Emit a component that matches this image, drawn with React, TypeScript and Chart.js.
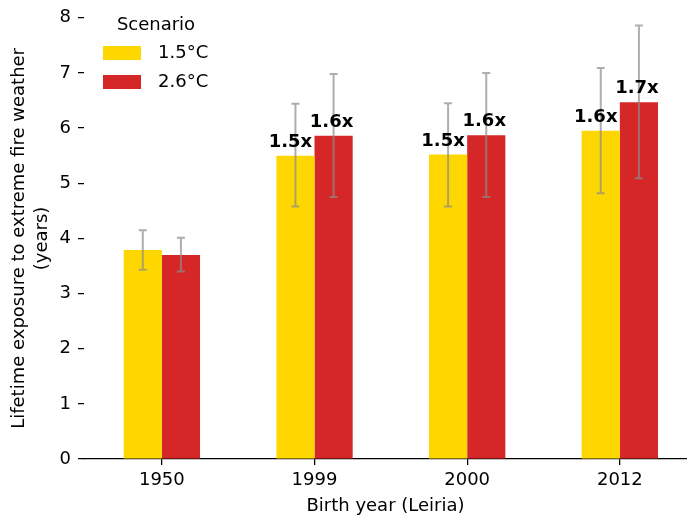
import { useEffect, useRef } from "react";
import { Chart, registerables } from "chart.js";

Chart.register(...registerables);

// ---- data ----
const birthYears = ["1950", "1999", "2000", "2012"];
const scenarioLabels = ["1.5°C", "2.6°C"];
const exposure15 = [3.79, 5.5, 5.52, 5.95];
const exposure26 = [3.7, 5.86, 5.87, 6.47];
const low15 = [3.43, 4.58, 4.58, 4.82];
const high15 = [4.15, 6.44, 6.45, 7.09];
const low26 = [3.4, 4.75, 4.75, 5.09];
const high26 = [4.01, 6.98, 7.0, 7.86];
const ratio15 = ["", "1.5x", "1.5x", "1.6x"];
const ratio26 = ["", "1.6x", "1.6x", "1.7x"];
const yAxisTitle = ["Lifetime exposure to extreme fire weather", "(years)"];
const xAxisTitle = "Birth year (Leiria)";
const legendTitle = "Scenario";

const FONT = "DejaVu Sans";
const COLORS = ["#FFD700", "#D62728"];

const lows = [low15, low26];
const highs = [high15, high26];
const ratios = [ratio15, ratio26];

const overlayPlugin = {
  id: "overlay",
  afterDatasetsDraw(chart: any) {
    const ctx = chart.ctx;
    const yScale = chart.scales.y;
    ctx.save();
    // error bars
    chart.data.datasets.forEach((_ds: any, di: number) => {
      const meta = chart.getDatasetMeta(di);
      meta.data.forEach((bar: any, i: number) => {
        const x = bar.x;
        const yl = yScale.getPixelForValue(lows[di][i]);
        const yh = yScale.getPixelForValue(highs[di][i]);
        ctx.strokeStyle = "rgba(140,140,140,0.7)";
        ctx.lineWidth = 2;
        ctx.beginPath();
        ctx.moveTo(x, yl);
        ctx.lineTo(x, yh);
        ctx.moveTo(x - 4, yl);
        ctx.lineTo(x + 4, yl);
        ctx.moveTo(x - 4, yh);
        ctx.lineTo(x + 4, yh);
        ctx.stroke();
      });
    });
    // ratio labels
    ctx.fillStyle = "#000";
    ctx.font = `bold 18px "${FONT}"`;
    ctx.textAlign = "center";
    ctx.textBaseline = "alphabetic";
    chart.data.datasets.forEach((_ds: any, di: number) => {
      const meta = chart.getDatasetMeta(di);
      meta.data.forEach((bar: any, i: number) => {
        const t = ratios[di][i];
        if (!t) return;
        ctx.fillText(t, bar.x + (di === 0 ? -5 : -2), bar.y - 9);
      });
    });
    ctx.restore();
  },
  afterDraw(chart: any) {
    const ctx = chart.ctx;
    const left = chart.chartArea.left;
    ctx.save();
    ctx.fillStyle = "#000";
    ctx.font = `18px "${FONT}"`;
    ctx.textBaseline = "middle";
    ctx.textAlign = "center";
    ctx.fillText(legendTitle, left + 72, 25);
    ctx.textAlign = "left";
    chart.data.datasets.forEach((ds: any, di: number) => {
      const yy = 46 + di * 29;
      ctx.fillStyle = ds.backgroundColor;
      ctx.fillRect(left + 19, yy, 38, 14);
      ctx.fillStyle = "#000";
      ctx.fillText(ds.label, left + 74, yy + 7);
    });
    ctx.restore();
  },
};

export default function App() {
  const ref = useRef<HTMLCanvasElement | null>(null);
  useEffect(() => {
    if (!ref.current) return;
    const series = [exposure15, exposure26];
    const chart = new Chart(ref.current, {
      type: "bar",
      data: {
        datasets: series.map((vals, di) => ({
          label: scenarioLabels[di],
          data: vals.map((y, i) => ({ x: i, y })),
          backgroundColor: COLORS[di],
          borderWidth: 0,
          categoryPercentage: 0.5,
          barPercentage: 1.0,
        })),
      },
      options: {
        animation: false,
        responsive: false,
        layout: { padding: { top: 14, right: 0, left: 0, bottom: 0 } },
        plugins: {
          legend: { display: false },
          tooltip: { enabled: false },
        },
        scales: {
          x: {
            type: "linear",
            min: -0.51,
            max: 3.44,
            offset: false,
            afterBuildTicks: (s: any) => {
              s.ticks = birthYears.map((_, i) => ({ value: i }));
            },
            afterFit: (s: any) => {
              s.height = 58;
            },
            ticks: {
              callback: (v: any) => birthYears[v as number] ?? "",
              font: { family: FONT, size: 18 },
              color: "#000",
              padding: 5,
              autoSkip: false,
              maxRotation: 0,
            },
            grid: {
              offset: false,
              drawOnChartArea: false,
              drawTicks: true,
              tickLength: 6,
              color: "#000",
              lineWidth: 1.25,
            },
            border: { display: true, color: "#000", width: 1.25 },
            title: {
              display: true,
              text: xAxisTitle,
              font: { family: FONT, size: 18 },
              color: "#000",
              padding: { top: 0, bottom: 0 },
            },
          },
          y: {
            min: 0,
            max: 8,
            afterFit: (s: any) => {
              s.width = 84;
            },
            ticks: {
              stepSize: 1,
              font: { family: FONT, size: 18 },
              color: "#000",
              padding: 7,
            },
            grid: {
              drawOnChartArea: false,
              drawTicks: true,
              tickLength: 6,
              color: "#000",
              lineWidth: 1.25,
            },
            border: { display: false },
            title: {
              display: true,
              text: yAxisTitle,
              font: { family: FONT, size: 18, lineHeight: 1.28 },
              color: "#000",
              padding: { top: 8, bottom: 0 },
            },
          },
        },
      } as any,
      plugins: [overlayPlugin],
    });
    return () => chart.destroy();
  }, []);
  return (
    <div style={{ position: "fixed", left: 0, top: 0, width: 687, height: 517, background: "#fff" }}>
      <canvas ref={ref} width={687} height={517} style={{ display: "block" }} />
    </div>
  );
}
